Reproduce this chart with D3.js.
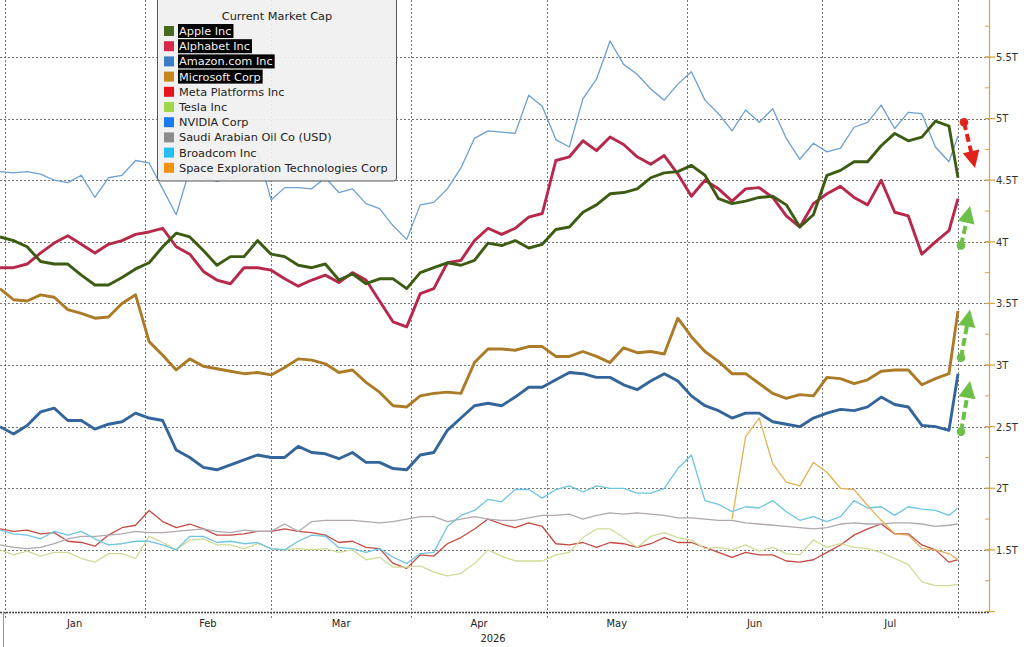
<!DOCTYPE html>
<html>
<head>
<meta charset="utf-8">
<script src="https://cdn.jsdelivr.net/npm/d3@7"></script>
<style>
  body { margin: 0; background: #fff; }
  svg { display: block; font-family: "DejaVu Sans Condensed", "DejaVu Sans", sans-serif; }
</style>
</head>
<body>
<div id="chart"></div>
<script>
/**********************************************************************/
// DATA (market cap, trillions USD), one sample every 3 days from 31 Dec 2025
/**********************************************************************/
const sampleStart = new Date(2025, 11, 31);
const sampleStepDays = 3;
const lastSampleDay = 212;
const dates = d3.range(0, 211, sampleStepDays)
                .concat([lastSampleDay])
                .map(d => d3.timeDay.offset(sampleStart, d));

const apple = [4.04,4.01,3.96,3.84,3.82,3.82,3.73,3.65,3.65,3.71, 3.78,3.83,3.96,4.07,4.04,3.93,3.81,3.88,3.88,4.01,
               3.90,3.88,3.81,3.79,3.82,3.69,3.74,3.66,3.70,3.70, 3.62,3.75,3.79,3.83,3.81,3.85,3.99,3.97,4.01,3.95,
               3.98,4.10,4.12,4.24,4.30,4.39,4.40,4.43,4.52,4.56, 4.57,4.62,4.54,4.35,4.31,4.33,4.36,4.37,4.30,4.12,
               4.22,4.54,4.58,4.65,4.65,4.78,4.88,4.82,4.85,4.98, 4.94,4.52];
const alphabet = [3.79,3.79,3.82,3.91,3.99,4.05,3.98,3.91,3.98,4.01, 4.06,4.08,4.11,3.96,3.90,3.76,3.69,3.66,3.79,3.79,
                  3.77,3.70,3.64,3.69,3.73,3.67,3.75,3.69,3.52,3.35, 3.31,3.58,3.62,3.83,3.85,4.01,4.11,4.06,4.11,4.20,
                  4.23,4.66,4.69,4.82,4.74,4.85,4.79,4.69,4.63,4.70, 4.55,4.37,4.50,4.43,4.33,4.43,4.44,4.36,4.21,4.12,
                  4.31,4.39,4.45,4.36,4.30,4.50,4.24,4.21,3.90,4.00, 4.09,4.35];
const amazon = [2.50,2.44,2.51,2.62,2.65,2.55,2.55,2.48,2.52,2.54, 2.61,2.57,2.55,2.31,2.25,2.17,2.15,2.19,2.23,2.27,
                2.25,2.25,2.34,2.29,2.28,2.24,2.29,2.21,2.21,2.16, 2.15,2.27,2.29,2.47,2.57,2.67,2.69,2.67,2.74,2.82,
                2.82,2.88,2.94,2.93,2.90,2.90,2.84,2.80,2.87,2.93, 2.87,2.75,2.67,2.63,2.57,2.61,2.61,2.54,2.52,2.50,
                2.57,2.61,2.64,2.63,2.66,2.74,2.68,2.66,2.51,2.50, 2.47,2.93];
const microsoft = [3.62,3.53,3.52,3.57,3.55,3.45,3.42,3.38,3.39,3.50, 3.57,3.19,3.08,2.96,3.05,2.99,2.97,2.95,2.93,2.94,
                   2.92,2.98,3.05,3.04,3.01,2.94,2.96,2.86,2.78,2.67, 2.66,2.75,2.77,2.78,2.77,3.02,3.13,3.13,3.12,3.15,
                   3.15,3.07,3.07,3.11,3.07,3.02,3.14,3.10,3.11,3.09, 3.38,3.23,3.11,3.03,2.93,2.93,2.85,2.77,2.73,2.76,
                   2.75,2.90,2.89,2.85,2.88,2.95,2.96,2.96,2.84,2.89, 2.93,3.44];
const meta = [1.67,1.65,1.66,1.63,1.64,1.57,1.56,1.53,1.62,1.68, 1.70,1.82,1.73,1.68,1.71,1.67,1.62,1.62,1.63,1.65,
              1.65,1.67,1.65,1.64,1.62,1.56,1.57,1.52,1.51,1.39, 1.35,1.46,1.45,1.55,1.60,1.67,1.75,1.71,1.68,1.72,
              1.69,1.55,1.54,1.56,1.52,1.56,1.55,1.52,1.55,1.60, 1.56,1.56,1.52,1.48,1.44,1.48,1.46,1.46,1.41,1.40,
              1.42,1.48,1.54,1.62,1.67,1.71,1.63,1.63,1.54,1.50, 1.40,1.42];
const tesla = [1.50,1.46,1.49,1.45,1.48,1.48,1.43,1.40,1.47,1.47, 1.43,1.61,1.56,1.50,1.58,1.59,1.54,1.54,1.51,1.55,
               1.51,1.50,1.51,1.50,1.51,1.48,1.50,1.42,1.44,1.36, 1.36,1.37,1.32,1.29,1.31,1.39,1.50,1.45,1.41,1.41,
               1.41,1.46,1.48,1.60,1.67,1.67,1.60,1.52,1.61,1.64, 1.60,1.58,1.51,1.52,1.50,1.54,1.49,1.52,1.47,1.46,
               1.58,1.52,1.55,1.52,1.51,1.48,1.43,1.38,1.24,1.21, 1.21,1.22];
const nvidia = [4.57,4.56,4.57,4.55,4.50,4.48,4.54,4.36,4.52,4.54, 4.66,4.64,4.43,4.22,4.59,4.52,4.49,4.52,4.55,4.74,
                4.34,4.44,4.44,4.43,4.52,4.40,4.43,4.31,4.27,4.13, 4.02,4.30,4.32,4.43,4.60,4.84,4.90,4.89,4.88,5.19,
                5.10,4.83,4.77,5.16,5.32,5.63,5.44,5.36,5.24,5.15, 5.28,5.38,5.15,5.04,4.90,5.07,4.97,5.08,4.84,4.67,
                4.80,4.73,4.76,4.93,4.97,5.11,4.92,5.05,5.04,4.77, 4.65,4.86];
const saudiAramco = [1.54,1.52,1.51,1.52,1.55,1.59,1.61,1.61,1.62,1.63, 1.65,1.64,1.64,1.65,1.66,1.67,1.65,1.64,1.66,1.65,
                     1.65,1.71,1.65,1.73,1.74,1.74,1.74,1.73,1.72,1.73, 1.75,1.77,1.77,1.73,1.75,1.77,1.75,1.74,1.74,1.76,
                     1.78,1.78,1.79,1.75,1.78,1.80,1.79,1.80,1.79,1.78, 1.76,1.76,1.75,1.74,1.74,1.72,1.71,1.70,1.69,1.68,
                     1.67,1.68,1.71,1.72,1.71,1.71,1.72,1.72,1.71,1.69, 1.70,1.71];
const broadcom = [1.66,1.63,1.62,1.59,1.65,1.62,1.65,1.59,1.54,1.55, 1.57,1.57,1.54,1.50,1.61,1.61,1.56,1.57,1.55,1.56,
                  1.51,1.50,1.57,1.62,1.61,1.52,1.51,1.48,1.51,1.44, 1.39,1.47,1.48,1.69,1.78,1.82,1.91,1.89,1.99,1.99,
                  1.92,1.99,2.02,1.97,2.02,2.00,2.00,1.96,1.96,2.00, 2.16,2.27,1.90,1.87,1.81,1.85,1.84,1.90,1.81,1.74,
                  1.77,1.73,1.77,1.90,1.84,1.85,1.78,1.85,1.83,1.82, 1.78,1.84];
// listed late May: no values before
const spacex = [...Array(54).fill(null),
                1.75,2.42,2.57,2.20,2.05,2.02, 2.21,2.13,2.00,1.99,1.86,1.74,1.63,1.62,1.51,1.50, 1.47,1.42];

const yTickValues = [1.5, 2, 2.5, 3, 3.5, 4, 4.5, 5, 5.5];
const monthLabels = ["Jan", "Feb", "Mar", "Apr", "May", "Jun", "Jul"];
const yearLabel = "2026";
const legendTitle = "Current Market Cap";

// arrows at the right edge: from value -> to value
const arrowNotes = [
  {from: 4.97, to: 4.60, kind: "down"},
  {from: 3.97, to: 4.29, kind: "up"},
  {from: 3.06, to: 3.45, kind: "up"},
  {from: 2.46, to: 2.87, kind: "up"}
];

/**********************************************************************/
// SERIES STYLE
/**********************************************************************/
const series = [
  {name: "Apple Inc",                          values: apple,       swatch: "#476b1c", line: "#3d5c13", width: 2.9, hi: true},
  {name: "Alphabet Inc",                       values: alphabet,    swatch: "#d8294b", line: "#b7294b", width: 2.9, hi: true},
  {name: "Amazon.com Inc",                     values: amazon,      swatch: "#3a7cc6", line: "#33659b", width: 2.9, hi: true},
  {name: "Microsoft Corp",                     values: microsoft,   swatch: "#c8861a", line: "#ab7b27", width: 2.9, hi: true},
  {name: "Meta Platforms Inc",                 values: meta,        swatch: "#e8141c", line: "#c44a44", width: 1.3, hi: false},
  {name: "Tesla Inc",                          values: tesla,       swatch: "#9ed84a", line: "#cfdc98", width: 1.3, hi: false},
  {name: "NVIDIA Corp",                        values: nvidia,      swatch: "#1a78f0", line: "#6d9fd1", width: 1.3, hi: false},
  {name: "Saudi Arabian Oil Co (USD)",         values: saudiAramco, swatch: "#8c8c8c", line: "#b0a8ae", width: 1.3, hi: false},
  {name: "Broadcom Inc",                       values: broadcom,    swatch: "#22bff0", line: "#6fc4df", width: 1.3, hi: false},
  {name: "Space Exploration Technologies Corp", values: spacex,     swatch: "#f0920a", line: "#dfb359", width: 1.3, hi: false}
];

/**********************************************************************/
// CHART DEFINITIONS
/**********************************************************************/
const svgWidth = 1024;
const svgHeight = 647;
const plotRight = 958;      // last data point
const axisX = 989;          // right value axis
const baseY = 612;

const svg = d3.select('#chart')
              .append('svg')
              .attr('width', svgWidth)
              .attr('height', svgHeight);

const x = d3.scaleTime()
            .domain([sampleStart, d3.timeDay.offset(sampleStart, lastSampleDay)])
            .range([0, plotRight]);

const y = d3.scaleLinear()
            .domain([1, 5.5])
            .range([611.5, 57]);

// horizontal grid
svg.append('g')
   .selectAll('line')
   .data(yTickValues)
   .join('line')
   .attr('x1', 0).attr('x2', axisX)
   .attr('y1', d => Math.round(y(d)) + 0.5).attr('y2', d => Math.round(y(d)) + 0.5)
   .attr('stroke', '#777').attr('stroke-width', 1).attr('stroke-dasharray', '2,2');

// vertical grid at month starts + end
const monthStarts = d3.timeMonth.range(new Date(2026, 0, 1), new Date(2026, 7, 1));
const vLines = monthStarts.concat([x.domain()[1]]);
svg.append('g')
   .selectAll('line')
   .data(vLines)
   .join('line')
   .attr('x1', d => Math.round(x(d)) + 0.5).attr('x2', d => Math.round(x(d)) + 0.5)
   .attr('y1', 0).attr('y2', baseY + 6)
   .attr('stroke', '#777').attr('stroke-width', 1).attr('stroke-dasharray', '2,2');

// bottom axis line
svg.append('line')
   .attr('x1', 0).attr('x2', axisX).attr('y1', baseY + 0.5).attr('y2', baseY + 0.5)
   .attr('stroke', '#444').attr('stroke-width', 1.6).attr('stroke-dasharray', '2,1');

// year divider at left
svg.append('line')
   .attr('x1', 3.5).attr('x2', 3.5).attr('y1', baseY).attr('y2', svgHeight)
   .attr('stroke', '#999').attr('stroke-width', 1);

// month labels
const monthEnds = monthStarts.slice(1).concat([x.domain()[1]]);
svg.append('g')
   .selectAll('text')
   .data(monthLabels)
   .join('text')
   .attr('x', (d, i) => (x(monthStarts[i]) + x(monthEnds[i])) / 2)
   .attr('y', 627)
   .attr('text-anchor', 'middle')
   .attr('font-size', 11)
   .attr('fill', '#222')
   .text(d => d);

svg.append('text')
   .attr('x', 493).attr('y', 642)
   .attr('text-anchor', 'middle')
   .attr('font-size', 11)
   .attr('fill', '#222')
   .text(yearLabel);

// right axis
const rightAxis = svg.append('g');
rightAxis.append('line')
   .attr('x1', axisX + 0.5).attr('x2', axisX + 0.5).attr('y1', 0).attr('y2', baseY)
   .attr('stroke', '#d7a53c').attr('stroke-width', 1.2);
const minorTicks = d3.range(1, 5.99, 0.25);
rightAxis.selectAll('.minor')
   .data(minorTicks)
   .join('line')
   .attr('class', 'minor')
   .attr('x1', axisX - 4).attr('x2', axisX)
   .attr('y1', d => y(d)).attr('y2', d => y(d))
   .attr('stroke', '#d7a53c').attr('stroke-width', 1);
rightAxis.selectAll('.major')
   .data([1].concat(yTickValues))
   .join('line')
   .attr('class', 'major')
   .attr('x1', axisX - 4).attr('x2', axisX + 6)
   .attr('y1', d => y(d)).attr('y2', d => y(d))
   .attr('stroke', '#d7a53c').attr('stroke-width', 1.2);
rightAxis.selectAll('text')
   .data(yTickValues)
   .join('text')
   .attr('x', axisX + 7)
   .attr('y', d => y(d))
   .attr('dy', '0.35em')
   .attr('font-size', 11)
   .attr('fill', '#333')
   .text(d => d3.format('~g')(d) + 'T');

// lines
const line = d3.line()
               .defined(d => d.v !== null)
               .x(d => x(d.date))
               .y(d => y(d.v));

const drawOrder = [4, 5, 6, 7, 8, 9, 2, 3, 1, 0];
svg.append('g')
   .selectAll('path')
   .data(drawOrder.map(i => series[i]))
   .join('path')
   .attr('fill', 'none')
   .attr('stroke', d => d.line)
   .attr('stroke-width', d => d.width)
   .attr('stroke-linejoin', 'round')
   .attr('d', d => line(d.values.map((v, i) => ({date: dates[i], v: v}))));

// arrows
const arrowColor = {down: '#e0211c', up: '#6cbf47'};
const lastX = x(dates[dates.length - 1]);
const arrows = svg.append('g');
arrowNotes.forEach(a => {
  const x0 = lastX + (a.kind === 'down' ? 6 : 3);
  const x1 = lastX + (a.kind === 'down' ? 17 : 12);
  const y0 = y(a.from), y1 = y(a.to);
  const dx = x1 - x0, dy = y1 - y0;
  const len = Math.hypot(dx, dy);
  const ux = dx / len, uy = dy / len;
  const headLen = 17, headHalf = 8.5;
  const bx = x1 - ux * headLen, by = y1 - uy * headLen;
  const c = arrowColor[a.kind];
  arrows.append('line')
        .attr('x1', x0).attr('y1', y0).attr('x2', bx + ux * 1).attr('y2', by + uy * 1)
        .attr('stroke', c).attr('stroke-width', 4).attr('stroke-dasharray', '8,4');
  arrows.append('circle')
        .attr('cx', x0).attr('cy', y0).attr('r', 4.3).attr('fill', c);
  arrows.append('polygon')
        .attr('points', [[x1, y1], [bx - uy * headHalf, by + ux * headHalf], [bx + uy * headHalf, by - ux * headHalf]].join(' '))
        .attr('fill', c);
});

// legend
const legend = svg.append('g')
                  .attr('transform', 'translate(157, 0)')
                  .style('font-family', '"DejaVu Sans", sans-serif');
legend.append('rect')
      .attr('x', 0.5).attr('y', -3).attr('width', 239).attr('height', 184).attr('rx', 3)
      .attr('fill', '#f0f0f0').attr('fill-opacity', 0.92)
      .attr('stroke', '#555').attr('stroke-width', 1);
legend.append('text')
      .attr('x', 120).attr('y', 20)
      .attr('text-anchor', 'middle')
      .attr('font-size', 11.3)
      .attr('fill', '#222')
      .text(legendTitle);

const rowStep = 15.2;
const rows = legend.selectAll('.row')
      .data(series)
      .join('g')
      .attr('class', 'row')
      .attr('transform', (d, i) => `translate(0, ${31 + i * rowStep})`);
rows.append('rect')
    .attr('x', 7).attr('y', -5).attr('width', 10).attr('height', 10)
    .attr('fill', d => d.swatch);
rows.append('rect')
    .attr('class', 'hi')
    .attr('x', 21).attr('y', -7).attr('height', 14)
    .attr('fill', '#000');
rows.append('text')
    .attr('x', 22).attr('y', 0).attr('dy', '0.36em')
    .attr('font-size', 11.3)
    .attr('fill', d => d.hi ? '#f2f2f2' : '#222')
    .text(d => d.name);
rows.each(function(d) {
  const g = d3.select(this);
  const w = g.select('text').node().getComputedTextLength();
  g.select('.hi').attr('width', d.hi ? w + 3 : 0);
});
</script>
</body>
</html>
